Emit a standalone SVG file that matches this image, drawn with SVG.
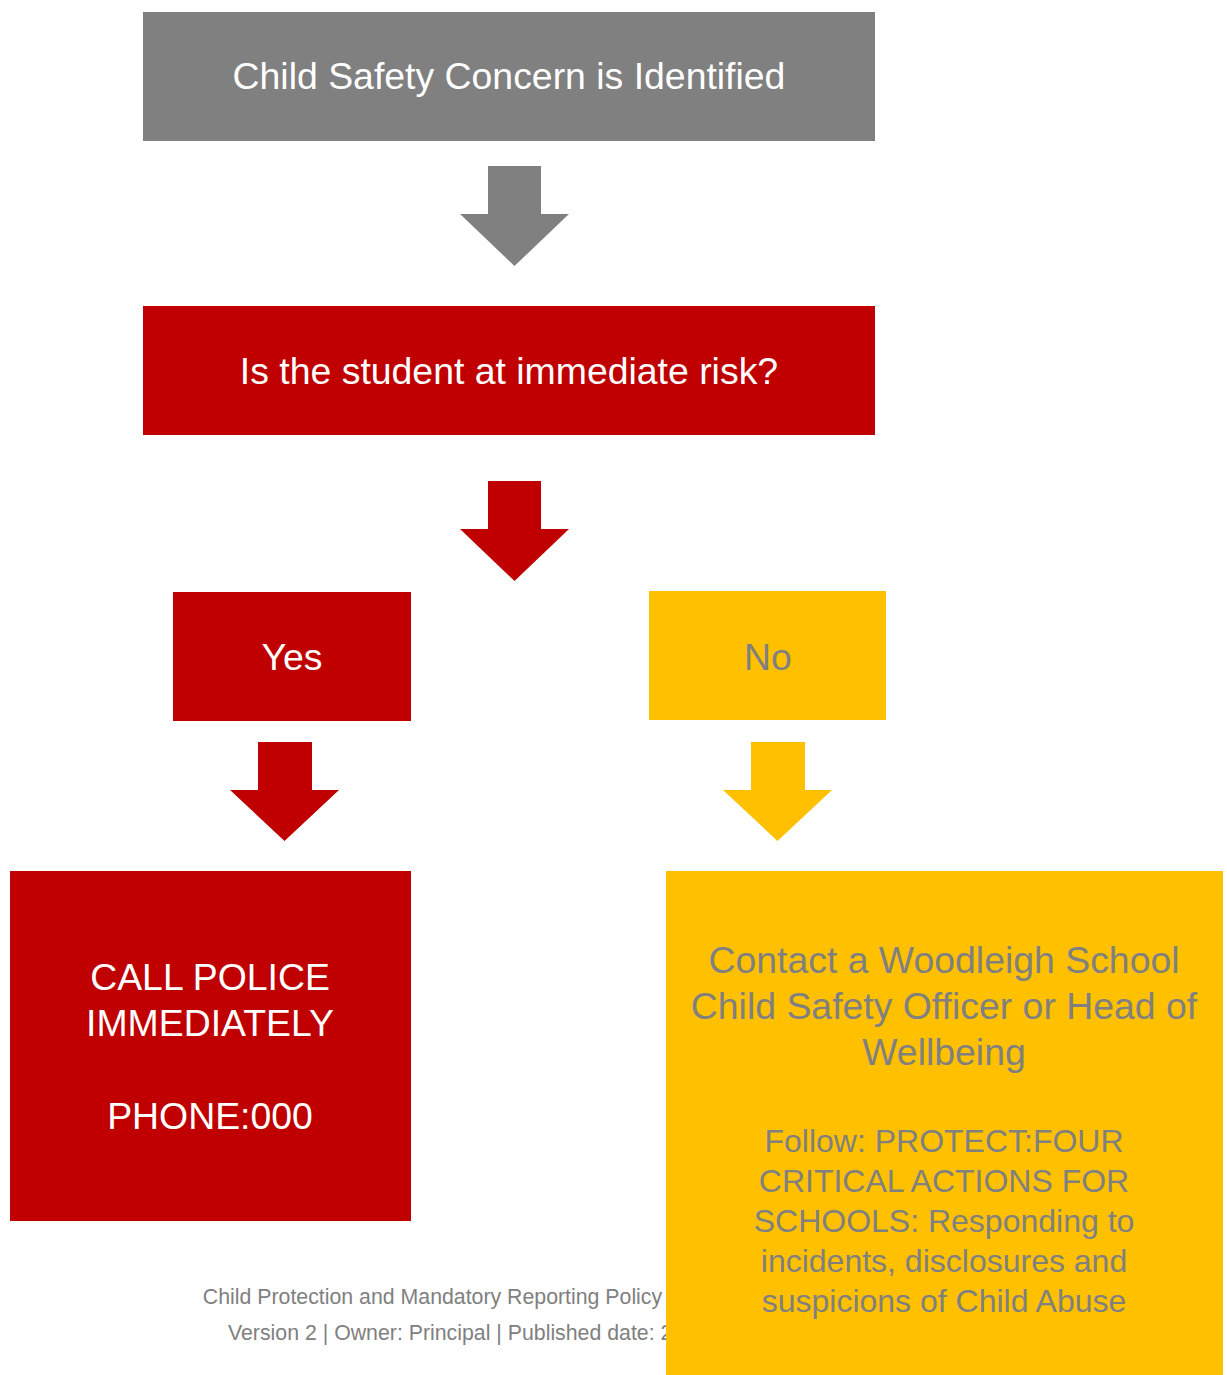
<svg xmlns="http://www.w3.org/2000/svg" width="1227" height="1375" viewBox="0 0 1227 1375">
<style>
text{font-family:"Liberation Sans",Arial,sans-serif;text-anchor:middle}
.w{fill:#ffffff}
.g{fill:#808080}
.big{font-size:37.4px}
.mid{font-size:32px}
.small{font-size:21.3px}
</style>
<rect width="1227" height="1375" fill="#ffffff"/>
<g id="connectors">
<path d="M488 166H541V214H569L514.5 266L460 214H488Z" fill="#808080"/>
<path d="M488 481H541V529H569L514.5 581L460 529H488Z" fill="#C00000"/>
<path d="M258 742H312V790H339L284.5 841L230 790H258Z" fill="#C00000"/>
<path d="M751 742H805V790H832L777.5 841L723 790H751Z" fill="#FFC000"/>
</g>
<g id="footer">
<text class="g small" x="432.5" y="1304">Child Protection and Mandatory Reporting Policy</text>
<text class="g small" x="228" y="1340" style="text-anchor:start">Version 2 | Owner: Principal | Published date: 2</text>
</g>
<g id="concern">
<rect x="143" y="12" width="732" height="129" fill="#808080"/>
<text class="w big" x="509" y="89">Child Safety Concern is Identified</text>
</g>
<g id="risk">
<rect x="143" y="306" width="732" height="129" fill="#C00000"/>
<text class="w big" x="509" y="384">Is the student at immediate risk?</text>
</g>
<g id="yes">
<rect x="173" y="592" width="238" height="129" fill="#C00000"/>
<text class="w big" x="292" y="670">Yes</text>
</g>
<g id="no">
<rect x="649" y="591" width="237" height="129" fill="#FFC000"/>
<text class="g big" x="768" y="670">No</text>
</g>
<g id="police">
<rect x="10" y="871" width="401" height="350" fill="#C00000"/>
<text class="w big" x="210" y="990">CALL POLICE</text>
<text class="w big" x="210" y="1036">IMMEDIATELY</text>
<text class="w big" x="210" y="1129">PHONE:000</text>
</g>
<g id="contact">
<rect x="666" y="871" width="557" height="504" fill="#FFC000"/>
<text class="g big" x="944" y="973">Contact a Woodleigh School</text>
<text class="g big" x="944" y="1019">Child Safety Officer or Head of</text>
<text class="g big" x="944" y="1065">Wellbeing</text>
<text class="g mid" x="944" y="1152">Follow: PROTECT:FOUR</text>
<text class="g mid" x="944" y="1192">CRITICAL ACTIONS FOR</text>
<text class="g mid" x="944" y="1232">SCHOOLS: Responding to</text>
<text class="g mid" x="944" y="1272">incidents, disclosures and</text>
<text class="g mid" x="944" y="1312">suspicions of Child Abuse</text>
</g>
</svg>
